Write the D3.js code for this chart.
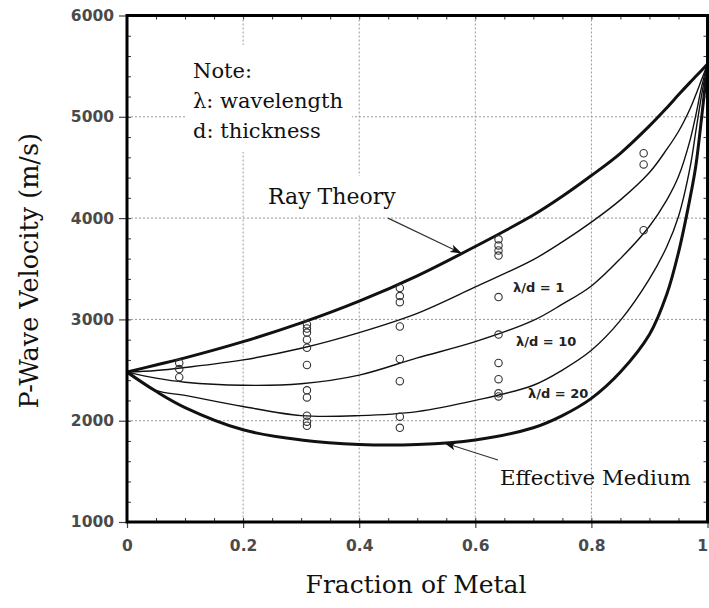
<!DOCTYPE html>
<html>
<head>
<meta charset="utf-8">
<script src="https://cdn.jsdelivr.net/npm/d3@7"></script>
<style>
  html, body { margin: 0; padding: 0; background: #fff; }
  svg { display: block; }
</style>
</head>
<body>
<svg id="chart" width="709" height="608"></svg>
<script>
// Metal fraction at which each model curve is sampled
const fractions = [0, 0.05, 0.1, 0.2, 0.3, 0.4, 0.5, 0.6, 0.7, 0.75, 0.8, 0.85, 0.9, 0.93, 0.95, 0.97, 0.98, 0.99, 1];

// P-wave velocity (m/s) for each model
const rayTheory       = [2480, 2550, 2620, 2780, 2965, 3180, 3430, 3720, 4030, 4215, 4420, 4640, 4910, 5090, 5217, 5340, 5400, 5460, 5520];
const ratio1          = [2480, 2495, 2525, 2600, 2715, 2870, 3060, 3320, 3590, 3765, 3960, 4180, 4450, 4680, 4855, 5080, 5220, 5370, 5520];
const ratio10         = [2480, 2420, 2380, 2350, 2365, 2450, 2620, 2780, 2990, 3150, 3330, 3600, 3920, 4180, 4410, 4770, 5020, 5300, 5520];
const ratio20         = [2480, 2300, 2250, 2140, 2050, 2050, 2090, 2200, 2350, 2500, 2695, 2990, 3400, 3720, 4015, 4500, 4860, 5220, 5520];
const effectiveMedium = [2480, 2290, 2130, 1910, 1810, 1765, 1765, 1810, 1930, 2050, 2220, 2480, 2850, 3250, 3660, 4200, 4520, 5000, 5520];

// Measured samples: metal fraction and the velocities observed at it
const sampleFractions = [0.09, 0.31, 0.47, 0.64, 0.89];
const sampleVelocities = [
  [2570, 2510, 2430],
  [2950, 2910, 2870, 2800, 2720, 2550, 2300, 2230, 2050, 1990, 1950],
  [3310, 3230, 3170, 2930, 2610, 2390, 2040, 1930],
  [3790, 3730, 3680, 3630, 3220, 2850, 2570, 2410, 2270, 2240],
  [4640, 4530, 3880]
];

// Axis ticks
const xTickValues = [0, 0.2, 0.4, 0.6, 0.8, 1];
const xTickLabels = ["0", "0.2", "0.4", "0.6", "0.8", "1"];
const yTickValues = [1000, 2000, 3000, 4000, 5000, 6000];
const yTickLabels = ["1000", "2000", "3000", "4000", "5000", "6000"];
const xGridValues = [0.2, 0.4, 0.6, 0.8];
const yGridValues = [2000, 3000, 4000, 5000];

const svg = d3.select("#chart");
svg.append("rect").attr("width", 709).attr("height", 608).attr("fill", "#fff");

const plotLeft = 127, plotRight = 707.5, plotTop = 15.5, plotBottom = 522;
const x = d3.scaleLinear().domain([0, 1]).range([plotLeft, plotRight]);
const y = d3.scaleLinear().domain([1000, 6000]).range([plotBottom, plotTop]);

const serif = "'DejaVu Serif', 'Liberation Serif', serif";
const sans = "'DejaVu Sans', 'Liberation Sans', sans-serif";

const defs = svg.append("defs");

// Dashed grid
const grid = svg.append("g").attr("stroke", "#999").attr("stroke-width", 1).attr("stroke-dasharray", "2,2");
grid.selectAll("line.v").data(xGridValues).join("line").attr("class", "v")
  .attr("x1", d => x(d)).attr("x2", d => x(d)).attr("y1", plotTop).attr("y2", plotBottom);
grid.selectAll("line.h").data(yGridValues).join("line").attr("class", "h")
  .attr("x1", plotLeft).attr("x2", plotRight).attr("y1", d => y(d)).attr("y2", d => y(d));

// White patches behind annotation text
svg.append("rect").attr("x", 185).attr("y", 45).attr("width", 167).attr("height", 107).attr("fill", "#fff");
svg.append("rect").attr("x", 262).attr("y", 176).attr("width", 140).attr("height", 38).attr("fill", "#fff");

// Model curves
const line = d3.line().x(d => x(d[0])).y(d => y(d[1])).curve(d3.curveCatmullRom.alpha(0.5));
const curves = [
  { values: ratio1, width: 1.4 },
  { values: ratio10, width: 1.4 },
  { values: ratio20, width: 1.4 },
  { values: rayTheory, width: 3 },
  { values: effectiveMedium, width: 3 }
];
defs.append("clipPath").attr("id", "plot-clip")
  .append("rect").attr("x", plotLeft).attr("y", plotTop)
  .attr("width", plotRight - plotLeft).attr("height", plotBottom - plotTop);
const curveG = svg.append("g").attr("clip-path", "url(#plot-clip)");
curveG.selectAll("path").data(curves).join("path")
  .attr("d", c => line(fractions.map((f, i) => [f, c.values[i]])))
  .attr("fill", "none").attr("stroke", "#111").attr("stroke-width", c => c.width)
  .attr("stroke-linejoin", "round");

// Measured samples
const samples = sampleFractions.flatMap((f, i) => sampleVelocities[i].map(v => [f, v]));
svg.append("g").selectAll("circle").data(samples).join("circle")
  .attr("cx", d => x(d[0])).attr("cy", d => y(d[1])).attr("r", 3.7)
  .attr("fill", "none").attr("stroke", "#333").attr("stroke-width", 1.1);

// Minor ticks pointing into the plot on all four sides
const minor = (axis, tx, ty) => {
  const g = svg.append("g").attr("transform", `translate(${tx},${ty})`).call(axis);
  g.select(".domain").remove();
  g.selectAll("line").attr("stroke", "#333");
  return g;
};
minor(d3.axisRight(y).ticks(25).tickSize(4).tickFormat(""), plotLeft, 0);
minor(d3.axisLeft(y).ticks(25).tickSize(4).tickFormat(""), plotRight, 0);
minor(d3.axisTop(x).ticks(20).tickSize(4).tickFormat(""), 0, plotBottom);
minor(d3.axisBottom(x).ticks(20).tickSize(4).tickFormat(""), 0, plotTop);

// Labelled axes
const yAxis = svg.append("g").attr("transform", `translate(${plotLeft},0)`)
  .call(d3.axisLeft(y).tickValues(yTickValues).tickFormat((d, i) => yTickLabels[i]).tickSize(8).tickPadding(5));
const xAxis = svg.append("g").attr("transform", `translate(0,${plotBottom})`)
  .call(d3.axisBottom(x).tickValues(xTickValues).tickFormat((d, i) => xTickLabels[i]).tickSize(6).tickPadding(12));
[yAxis, xAxis].forEach(g => {
  g.select(".domain").remove();
  g.selectAll("line").attr("stroke", "#444").attr("stroke-width", 1.2);
  g.selectAll("text").attr("font-family", sans).attr("font-weight", "bold")
    .attr("font-size", 15.5).attr("fill", "#4a4a4a");
});
// keep the last x label inside the page edge
xAxis.selectAll(".tick text").filter(d => d === 1).attr("text-anchor", "end").attr("dx", 0);

// Frame
svg.append("rect").attr("x", plotLeft).attr("y", plotTop)
  .attr("width", plotRight - plotLeft).attr("height", plotBottom - plotTop)
  .attr("fill", "none").attr("stroke", "#000").attr("stroke-width", 3);

// Axis titles
svg.append("text").attr("x", 416).attr("y", 593).attr("text-anchor", "middle")
  .attr("font-family", serif).attr("font-size", 25).attr("fill", "#111").text("Fraction of Metal");
svg.append("text").attr("transform", `translate(38,${(plotTop + plotBottom) / 2 + 2}) rotate(-90)`)
  .attr("text-anchor", "middle")
  .attr("font-family", serif).attr("font-size", 25.5).attr("fill", "#111").text("P-Wave Velocity (m/s)");

// Note
const note = svg.append("g").attr("font-family", serif).attr("font-size", 21).attr("fill", "#111");
note.append("text").attr("x", 193).attr("y", 78).text("Note:");
note.append("text").attr("x", 193).attr("y", 108).text("λ: wavelength");
note.append("text").attr("x", 193).attr("y", 138).text("d: thickness");

// Curve labels
svg.append("text").attr("x", 268).attr("y", 204).attr("font-family", serif).attr("font-size", 22)
  .attr("fill", "#111").text("Ray Theory");
svg.append("text").attr("x", 500).attr("y", 485).attr("font-family", serif).attr("font-size", 21.3)
  .attr("fill", "#111").text("Effective Medium");
const ratioLabels = [
  { text: "λ/d = 1", x: 513, y: 292 },
  { text: "λ/d = 10", x: 516, y: 346 },
  { text: "λ/d = 20", x: 528, y: 398 }
];
svg.append("g").selectAll("text").data(ratioLabels).join("text")
  .attr("x", d => d.x).attr("y", d => d.y).attr("font-family", sans).attr("font-weight", "bold")
  .attr("font-size", 13).attr("fill", "#222").text(d => d.text);

// Arrows pointing at the two bounding curves
defs.append("marker").attr("id", "arrowhead")
  .attr("viewBox", "0 0 12 8").attr("refX", 12).attr("refY", 4)
  .attr("markerWidth", 12).attr("markerHeight", 8).attr("markerUnits", "userSpaceOnUse")
  .attr("orient", "auto")
  .append("path").attr("d", "M0,0 L12,4 L0,8 L3,4 Z").attr("fill", "#111");
const arrows = [
  { from: [0.4496, 4000], to: [0.577, 3650] },
  { from: [0.639, 1612], to: [0.546, 1782] }
];
svg.append("g").selectAll("line").data(arrows).join("line")
  .attr("x1", d => x(d.from[0])).attr("y1", d => y(d.from[1]))
  .attr("x2", d => x(d.to[0])).attr("y2", d => y(d.to[1]))
  .attr("stroke", "#333").attr("stroke-width", 1.2).attr("marker-end", "url(#arrowhead)");
</script>
</body>
</html>
